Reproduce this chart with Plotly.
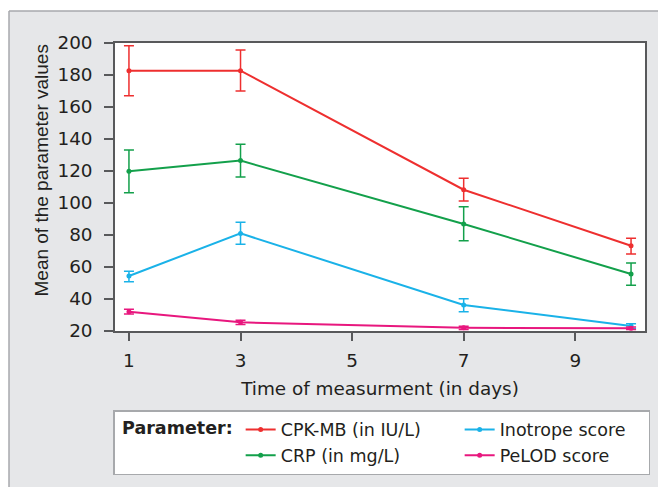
import plotly.graph_objects as go

days = [1, 3, 7, 10]
series_names = ["CPK-MB (in IU/L)", "CRP (in mg/L)", "Inotrope score", "PeLOD score"]
cpk_mean = [182.7, 182.7, 108.3, 73.3]
cpk_plus = [15.6, 12.9, 7.1, 4.6]
cpk_minus = [15.6, 12.7, 7.1, 5.2]
crp_mean = [119.8, 126.5, 86.9, 55.6]
crp_plus = [13.3, 10.2, 10.8, 6.9]
crp_minus = [13.4, 10.3, 10.5, 7.0]
ino_mean = [54.4, 81.0, 36.3, 23.1]
ino_plus = [3.0, 6.9, 3.9, 1.5]
ino_minus = [3.6, 6.8, 4.3, 1.5]
pel_mean = [32.1, 25.4, 22.0, 21.7]
pel_plus = [1.5, 1.3, 1.0, 0.8]
pel_minus = [1.5, 1.3, 1.0, 0.8]
x_ticks = [1, 3, 5, 7, 9]
colors = ["#ee2f2f", "#13a04b", "#1ab2e8", "#e8177e"]
ranks = [1, 3, 2, 4]
legend_widths = [174, 174, 143, 143]

W, H = 658, 487
L, R, T, B = 115, 13, 43, 156
PW, PH = W - L - R, H - T - B

def px(x):
    return (x - L) / PW

def py(y):
    return (H - B - y) / PH

fig = go.Figure()
data = [
    (cpk_mean, cpk_plus, cpk_minus),
    (crp_mean, crp_plus, crp_minus),
    (ino_mean, ino_plus, ino_minus),
    (pel_mean, pel_plus, pel_minus),
]
for name, (m, p, n), c, rk, lw in zip(series_names, data, colors, ranks, legend_widths):
    fig.add_trace(go.Scatter(
        x=days, y=m, name=name, mode="lines+markers",
        line=dict(color=c, width=2), marker=dict(color=c, size=5),
        error_y=dict(type="data", array=p, arrayminus=n, color=c,
                     thickness=1.5, width=5),
        legendrank=rk, legendwidth=lw,
    ))

text_col = "#231f20"
hfont = dict(family="DejaVu Sans", size=18.4, color=text_col)
lfont = dict(family="DejaVu Sans", size=17.5, color=text_col)
axcol = "#58595b"
fig.update_layout(
    width=W, height=H,
    margin=dict(l=L, r=R, t=T, b=B, pad=0, autoexpand=False),
    paper_bgcolor="#e6e7e9",
    plot_bgcolor="white",
    font=hfont,
    xaxis=dict(range=[0.75, 10.25], tickvals=x_ticks,
               ticks="outside", ticklen=8, tickwidth=1.5, tickcolor=axcol,
               showline=True, linecolor=axcol, linewidth=1.5, mirror=True,
               showgrid=False, zeroline=False, ticklabelstandoff=4,
               automargin=False,
               title=dict(text="Time of measurment (in days)", standoff=12, font=hfont)),
    yaxis=dict(range=[20, 200], dtick=20,
               ticks="outside", ticklen=9, tickwidth=1.5, tickcolor=axcol,
               showline=True, linecolor=axcol, linewidth=1.5, mirror=True,
               showgrid=False, zeroline=False, ticklabelstandoff=8,
               automargin=False),
    legend=dict(orientation="h", x=px(113), xanchor="left", y=py(410), yanchor="top",
                bgcolor="white", bordercolor="#a7a9ac", borderwidth=1.5,
                itemwidth=30,
                title=dict(text="\u00a0<b>Parameter:</b>", side="left", font=lfont),
                font=lfont, tracegroupgap=0),
    showlegend=True,
)

fig.add_annotation(text="Mean of the parameter values", textangle=-90,
                   xref="paper", yref="paper", x=px(41), y=py(170.5),
                   xanchor="center", yanchor="middle", showarrow=False,
                   font=dict(family="Liberation Sans", size=19, color=text_col))

# white strips and borders of the outer panel
fig.add_shape(type="rect", xref="paper", yref="paper", x0=px(-5), x1=px(W + 5),
              y0=py(11), y1=py(-5), fillcolor="white", line=dict(width=0), layer="below")
fig.add_shape(type="rect", xref="paper", yref="paper", x0=px(-5), x1=px(9),
              y0=py(H + 5), y1=py(-5), fillcolor="white", line=dict(width=0), layer="below")
fig.add_shape(type="line", xref="paper", yref="paper", x0=px(9), x1=px(W + 5),
              y0=py(11), y1=py(11), line=dict(color="#a7a9ac", width=1.5))
fig.add_shape(type="line", xref="paper", yref="paper", x0=px(9), x1=px(9),
              y0=py(11), y1=py(H + 5), line=dict(color="#a7a9ac", width=1.5))

fig.write_html("out.html")
